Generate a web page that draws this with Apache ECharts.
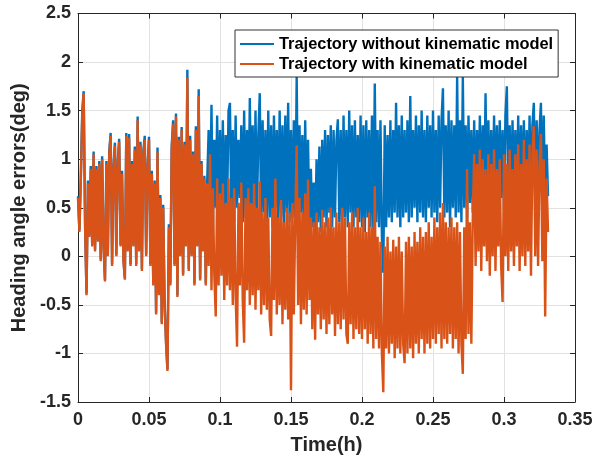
<!DOCTYPE html>
<html>
<head>
<meta charset="utf-8">
<script src="https://cdn.jsdelivr.net/npm/echarts@6/dist/echarts.min.js"></script>
<style>html,body{margin:0;padding:0;background:#fff}#c{width:608px;height:460px}</style>
</head>
<body>
<div id="c"></div>
<script>
const seriesNames = ['Trajectory without kinematic model', 'Trajectory with kinematic model'];
const timeStep = 0.001; // h, sample spacing
const xTicks = [0, 0.05, 0.1, 0.15, 0.2, 0.25, 0.3, 0.35];
const yTicks = [-1.5, -1, -0.5, 0, 0.5, 1, 1.5, 2, 2.5];

const withoutModel = [
0.62,0.27,0.83,1.5,1.7,0.32,-0.38,0.78,0.22,0.93,
0.12,1.08,0.07,0.93,0.17,0.98,-0.03,1.03,0.12,-0.24,
0.98,0.02,1.08,1.27,-0.08,0.93,1.17,0.02,0.98,1.21,
0.12,0.88,-0.03,-0.22,1.27,0.07,1.26,-0.08,0.98,0.12,
1.13,-0.08,1.44,0.07,1.18,-0.13,1.08,1.24,0.02,0.93,
1.23,-0.08,0.88,-0.28,0.78,-0.58,1.12,-0.38,0.63,-0.68,
0.53,-0.48,-0.88,-1.16,0.33,-0.28,1.14,1.4,-0.08,1.47,
-0.4,1.23,0.02,1.33,-0.18,1.18,0.12,1.92,-0.13,1.24,
0.02,1.08,-0.28,1.34,0.12,1.72,-0.23,0.98,0.07,0.83,
-0.28,0.78,1.3,0.4,1.56,0.3,1.2,0.5,1.45,0.35,
1.3,0.45,1.4,0.3,1.25,0.5,1.5,1.58,0.4,1.3,
0.35,1.45,0.5,1.2,0.6,1.35,0.35,1.5,0.4,1.3,
0.3,1.63,0.45,1.35,0.35,1.5,0.4,1.25,1.68,0.3,
1.4,0.45,1.3,0.35,1.5,0.4,1.35,0.3,1.45,0.5,
1.3,0.35,1.5,0.4,1.35,0.3,1.45,0.45,1.58,0.35,
1.3,0.4,1.4,0.3,1.85,0.35,1.35,0.45,1.25,0.3,
1.4,0.4,1.2,0.25,0.9,0.3,0.76,0.2,1.0,0.35,
1.13,0.25,1.2,0.4,1.3,0.3,1.25,0.45,1.35,0.3,
1.3,0.4,1.2,1.41,0.35,1.3,0.25,1.45,0.4,1.3,
0.3,1.5,0.45,1.35,0.3,1.4,0.4,1.25,0.35,1.45,
0.3,1.35,0.25,1.4,0.4,1.3,0.3,1.45,0.25,1.78,
0.35,1.3,0.3,1.4,0.2,-0.17,1.35,0.3,1.25,0.4,
1.4,0.35,1.3,0.45,1.58,0.4,1.35,0.3,1.45,0.4,
1.3,0.45,1.4,0.35,1.65,0.4,1.3,0.5,1.45,0.35,
1.35,0.45,1.5,0.4,1.3,0.35,1.45,0.5,1.35,0.4,
1.5,0.45,1.3,0.35,1.45,0.5,1.4,1.73,0.4,1.35,
0.45,1.5,0.3,1.4,0.5,1.35,0.4,1.85,0.45,1.4,
0.35,1.85,0.5,1.35,0.4,1.45,0.55,1.3,0.45,1.4,
0.5,1.3,0.6,1.45,0.45,1.35,0.55,1.68,0.5,1.4,
0.6,1.3,0.45,1.45,0.55,1.35,0.5,1.4,0.6,1.3,
0.5,1.45,1.75,0.55,1.35,0.5,1.4,0.6,1.3,0.5,
1.45,0.55,1.35,0.6,1.4,0.5,1.3,0.55,1.45,0.6,
1.35,1.58,0.5,1.4,0.55,1.3,1.58,0.6,1.45,0.5,
1.15,0.62
];

const withModel = [
0.6,0.25,0.8,1.45,1.68,0.3,-0.4,0.75,0.2,0.9,
0.1,1.05,0.05,0.9,0.15,0.95,-0.05,1.0,0.1,-0.26,
0.95,0.0,1.05,1.24,-0.1,0.9,1.14,0.0,0.95,1.18,
0.1,0.85,-0.05,-0.24,1.24,0.05,1.22,-0.1,0.95,0.1,
1.1,-0.1,1.4,0.05,1.15,-0.15,1.05,1.2,0.0,0.9,
1.2,-0.1,0.85,-0.3,0.75,-0.6,1.08,-0.4,0.6,-0.7,
0.5,-0.5,-0.9,-1.18,0.3,-0.3,1.1,1.36,-0.1,1.44,
-0.42,1.2,0.0,1.3,-0.2,1.15,0.1,1.84,-0.15,1.2,
0.0,1.05,-0.3,1.3,0.1,1.65,-0.25,0.95,0.05,0.8,
-0.3,0.75,-0.1,1.05,-0.35,0.7,-0.2,-0.62,0.8,-0.3,
0.65,-0.2,0.75,-0.45,0.55,-0.3,0.8,-0.35,0.6,-0.5,
0.7,-0.4,-0.93,0.55,-0.3,0.76,-0.45,-0.89,0.6,-0.35,
0.7,-0.5,0.55,-0.4,0.75,-0.55,0.5,-0.35,0.77,-0.6,
0.45,-0.5,0.6,-0.55,0.4,-0.65,-0.82,0.5,-0.45,0.8,
-0.6,0.4,-0.5,0.58,-0.7,0.35,-0.55,0.5,-0.65,0.45,
-1.38,0.55,-0.6,0.4,1.14,-0.5,0.6,-0.7,0.45,-0.55,
0.65,-0.6,0.79,-0.45,0.4,-0.75,0.35,-0.86,0.45,-0.6,
0.3,-0.75,0.48,-0.65,0.35,-0.8,0.4,-0.7,0.5,-0.6,
0.3,-0.82,0.45,-0.7,0.35,-0.75,0.5,-0.65,0.4,-0.8,
-0.9,0.35,-0.7,0.45,-0.85,0.3,-0.75,0.5,-0.8,0.3,
-0.85,0.4,-0.75,0.25,-0.9,0.45,-0.8,0.3,-0.95,0.72,
-0.85,0.2,-0.95,0.15,-1.0,-1.4,0.1,-0.95,0.2,-1.0,
0.05,-0.9,0.17,-1.05,0.1,-0.95,0.2,-1.0,0.05,-0.9,
-1.1,0.15,-1.0,0.2,-0.95,0.1,-1.05,0.25,-0.9,0.15,
-1.0,0.3,-0.85,0.2,-1.0,0.25,-0.9,0.35,-0.95,0.2,
-0.85,0.4,-0.9,0.3,-0.8,0.45,-0.95,0.55,-0.85,0.35,
-0.9,0.3,-0.8,0.4,-0.95,0.3,-0.85,0.35,-1.0,0.25,
-0.9,-1.21,0.3,-0.85,0.9,-0.8,0.35,-0.9,0.4,1.05,
-0.1,0.95,0.05,1.1,-0.15,1.0,0.1,0.9,-0.05,1.05,
-0.2,0.95,0.0,1.1,-0.15,0.9,0.1,1.0,-0.1,-0.47,
1.05,0.0,0.95,-0.15,1.1,0.05,0.9,-0.1,1.05,0.1,
1.15,-0.15,0.95,0.0,1.2,-0.1,1.0,0.05,1.15,-0.2,
1.05,1.34,0.0,1.1,-0.1,0.95,1.26,-0.05,1.0,-0.62,
0.8,0.25
];

const toPairs = arr => arr.map((v, i) => [+(i * timeStep).toFixed(4), v]);

const axisColor = '#262626';
const font = 'Liberation Sans, Arial, Helvetica, sans-serif';
const chart = echarts.init(document.getElementById('c'), null, {renderer: 'canvas'});
chart.setOption({
  animation: false,
  backgroundColor: '#ffffff',
  grid: {left: 78, right: 33, top: 13.5, bottom: 57, containLabel: false},
  legend: {
    orient: 'vertical',
    left: 235, top: 30,
    padding: [4, 5, 3, 5],
    itemGap: 0,
    itemWidth: 34, itemHeight: 2,
    icon: 'rect',
    borderColor: '#333', borderWidth: 1, borderRadius: 0,
    backgroundColor: '#fff',
    textStyle: {fontFamily: font, fontWeight: 'bold', fontSize: 16.4, lineHeight: 20, color: '#000'},
    data: seriesNames
  },
  xAxis: [{
    type: 'value', min: xTicks[0], max: xTicks[xTicks.length - 1], interval: 0.05,
    name: 'Time(h)', nameLocation: 'middle', nameGap: 33,
    nameTextStyle: {fontFamily: font, fontWeight: 'bold', fontSize: 20, color: axisColor},
    axisLine: {show: true, onZero: false, lineStyle: {color: axisColor, width: 1}},
    axisTick: {show: true, inside: true, length: 5, lineStyle: {color: axisColor}},
    axisLabel: {fontFamily: font, fontWeight: 'bold', fontSize: 18, color: axisColor, margin: 9,
      formatter: v => String(+v.toFixed(2))},
    splitLine: {show: true, lineStyle: {color: '#e2e2e2', width: 1}}
  }, {
    type: 'value', position: 'top', min: xTicks[0], max: xTicks[xTicks.length - 1], interval: 0.05,
    axisLine: {show: true, onZero: false, lineStyle: {color: axisColor, width: 1}},
    axisTick: {show: true, inside: true, length: 5, lineStyle: {color: axisColor}},
    axisLabel: {show: false}, splitLine: {show: false}
  }],
  yAxis: [{
    type: 'value', min: yTicks[0], max: yTicks[yTicks.length - 1], interval: 0.5,
    name: 'Heading angle errors(deg)', nameLocation: 'middle', nameGap: 45,
    nameTextStyle: {fontFamily: font, fontWeight: 'bold', fontSize: 20, color: axisColor},
    axisLine: {show: true, onZero: false, lineStyle: {color: axisColor, width: 1}},
    axisTick: {show: true, inside: true, length: 5, lineStyle: {color: axisColor}},
    axisLabel: {fontFamily: font, fontWeight: 'bold', fontSize: 18, color: axisColor, margin: 7},
    splitLine: {show: true, lineStyle: {color: '#e2e2e2', width: 1}}
  }, {
    type: 'value', position: 'right', min: yTicks[0], max: yTicks[yTicks.length - 1], interval: 0.5,
    axisLine: {show: true, onZero: false, lineStyle: {color: axisColor, width: 1}},
    axisTick: {show: true, inside: true, length: 5, lineStyle: {color: axisColor}},
    axisLabel: {show: false}, splitLine: {show: false}
  }],
  series: [{
    name: seriesNames[0], type: 'line', data: toPairs(withoutModel),
    symbol: 'none', sampling: null, color: '#0072BD',
    lineStyle: {width: 2.4, color: '#0072BD'}, z: 2
  }, {
    name: seriesNames[1], type: 'line', data: toPairs(withModel),
    symbol: 'none', sampling: null, color: '#D95319',
    lineStyle: {width: 2.4, color: '#D95319'}, z: 3
  }]
});
</script>
</body>
</html>
